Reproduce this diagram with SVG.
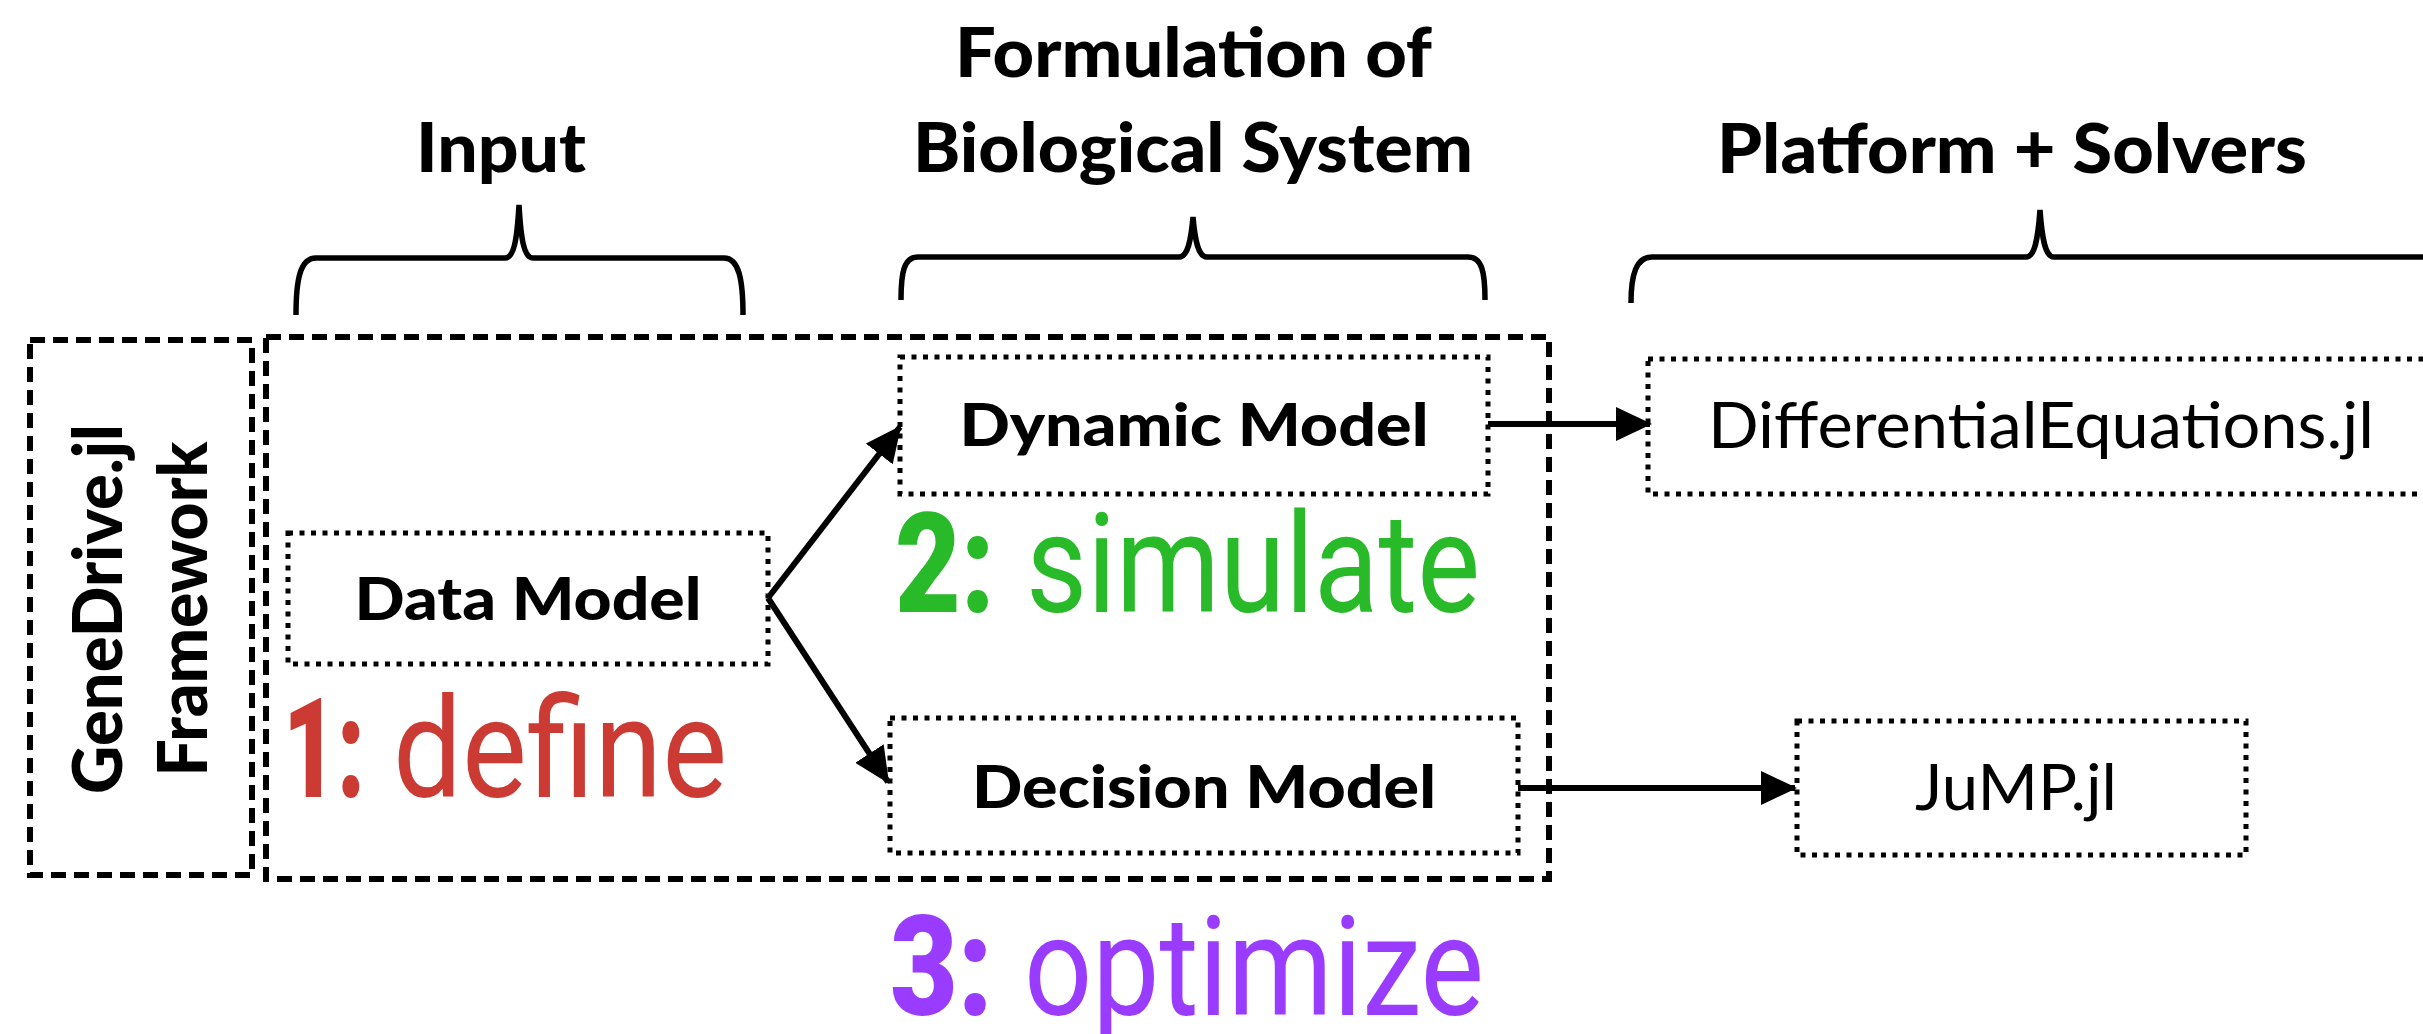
<svg xmlns="http://www.w3.org/2000/svg" width="2423" height="1034" viewBox="0 0 2423 1034">
<style>
.outer{fill:none;stroke:#000;stroke-width:6;stroke-dasharray:15 8}
.inner{fill:none;stroke:#000;stroke-width:5;stroke-dasharray:5 6.5}
.brace{fill:none;stroke:#000;stroke-width:5.5}
.conn{fill:none;stroke:#000;stroke-width:6}
.hdr{font-family:Lato,"Liberation Sans",sans-serif;font-weight:900;font-size:69px;fill:#000}
.nb{font-family:Lato,"Liberation Sans",sans-serif;font-weight:900;font-size:59px;fill:#000}
.nr{font-family:Lato,"Liberation Sans",sans-serif;font-size:64px;fill:#000}
.num{font-family:Roboto,"Liberation Sans",sans-serif;font-weight:900;font-size:140px}
.word{font-family:Roboto,"Liberation Sans",sans-serif;font-weight:400;font-size:140px}
.red{fill:#CC3B33}.green{fill:#29BA29}.purple{fill:#9A3CFF}
</style>
<defs>
<marker id="ah" markerUnits="userSpaceOnUse" markerWidth="36" markerHeight="34" refX="34" refY="17" orient="auto">
<path d="M0,0 L36,17 L0,34 z" fill="#000"/>
</marker>
</defs>
<rect width="2423" height="1034" fill="#fff"/>

<g id="headers">
<text class="hdr" x="501" y="172" text-anchor="middle" textLength="170" lengthAdjust="spacingAndGlyphs">Input</text>
<text class="hdr" x="955" y="77" textLength="477" lengthAdjust="spacingAndGlyphs">Formulation of</text>
<text class="hdr" x="913" y="172" textLength="560" lengthAdjust="spacingAndGlyphs">Biological System</text>
<text class="hdr" x="1717" y="173" textLength="590" lengthAdjust="spacingAndGlyphs">Platform + Solvers</text>
</g>

<g id="braces">
<path class="brace" d="M296,315 C296,280 300,258 316,258 L505,258 C514,258 517,240 519,205 C521,240 524,258 533,258 L724,258 C739,258 743,280 743,315"/>
<path class="brace" d="M901,300 C901,272 904,257 918,257 L1179,257 C1188,257 1191,240 1193,217 C1195,240 1198,257 1207,257 L1468,257 C1482,257 1485,272 1485,300"/>
<path class="brace" d="M1631,303 C1631,275 1636,257 1652,257 L2026,257 C2035,257 2038,238 2040,210 C2042,238 2045,257 2054,257 L2430,257"/>
</g>

<g id="framework">
<rect class="outer" x="30" y="340" width="222" height="535"/>
<text class="hdr" transform="translate(122,609) rotate(-90)" text-anchor="middle" textLength="370" lengthAdjust="spacingAndGlyphs">GeneDrive.jl</text>
<text class="hdr" transform="translate(207,609) rotate(-90)" text-anchor="middle" textLength="335" lengthAdjust="spacingAndGlyphs">Framework</text>
</g>

<g id="system">
<rect class="outer" x="266" y="337" width="1283" height="542"/>
</g>

<g id="data-model">
<rect class="inner" x="288" y="533" width="480" height="131"/>
<text class="nb" x="528" y="620" text-anchor="middle" textLength="347" lengthAdjust="spacingAndGlyphs">Data Model</text>
</g>

<g id="dynamic-model">
<rect class="inner" x="900" y="357" width="588" height="137"/>
<text class="nb" x="1194" y="446" text-anchor="middle" textLength="469" lengthAdjust="spacingAndGlyphs">Dynamic Model</text>
</g>

<g id="decision-model">
<rect class="inner" x="890" y="718" width="628" height="135"/>
<text class="nb" x="1204" y="808" text-anchor="middle" textLength="464" lengthAdjust="spacingAndGlyphs">Decision Model</text>
</g>

<g id="diffeq">
<rect class="inner" x="1648" y="359" width="800" height="135"/>
<text class="nr" x="1708" y="448" textLength="666" lengthAdjust="spacingAndGlyphs">DifferentialEquations.jl</text>
</g>

<g id="jump">
<rect class="inner" x="1797" y="721" width="449" height="134"/>
<text class="nr" x="2016" y="810" text-anchor="middle" textLength="202" lengthAdjust="spacingAndGlyphs">JuMP.jl</text>
</g>

<g id="labels">
<text class="num red" x="283" y="797" textLength="82" lengthAdjust="spacingAndGlyphs">1:</text>
<text class="word red" x="393" y="797" textLength="334" lengthAdjust="spacingAndGlyphs">define</text>
<text class="num green" x="895" y="612" textLength="100" lengthAdjust="spacingAndGlyphs">2:</text>
<text class="word green" x="1026" y="612" textLength="454" lengthAdjust="spacingAndGlyphs">simulate</text>
<text class="num purple" x="890" y="1015" textLength="103" lengthAdjust="spacingAndGlyphs">3:</text>
<text class="word purple" x="1024" y="1015" textLength="460" lengthAdjust="spacingAndGlyphs">optimize</text>
</g>

<g id="connectors">
<line class="conn" x1="768" y1="598" x2="900" y2="427" marker-end="url(#ah)"/>
<line class="conn" x1="768" y1="598" x2="888" y2="782" marker-end="url(#ah)"/>
<line class="conn" x1="1488" y1="424" x2="1650" y2="424" marker-end="url(#ah)"/>
<line class="conn" x1="1518" y1="788" x2="1795" y2="788" marker-end="url(#ah)"/>
</g>
</svg>
